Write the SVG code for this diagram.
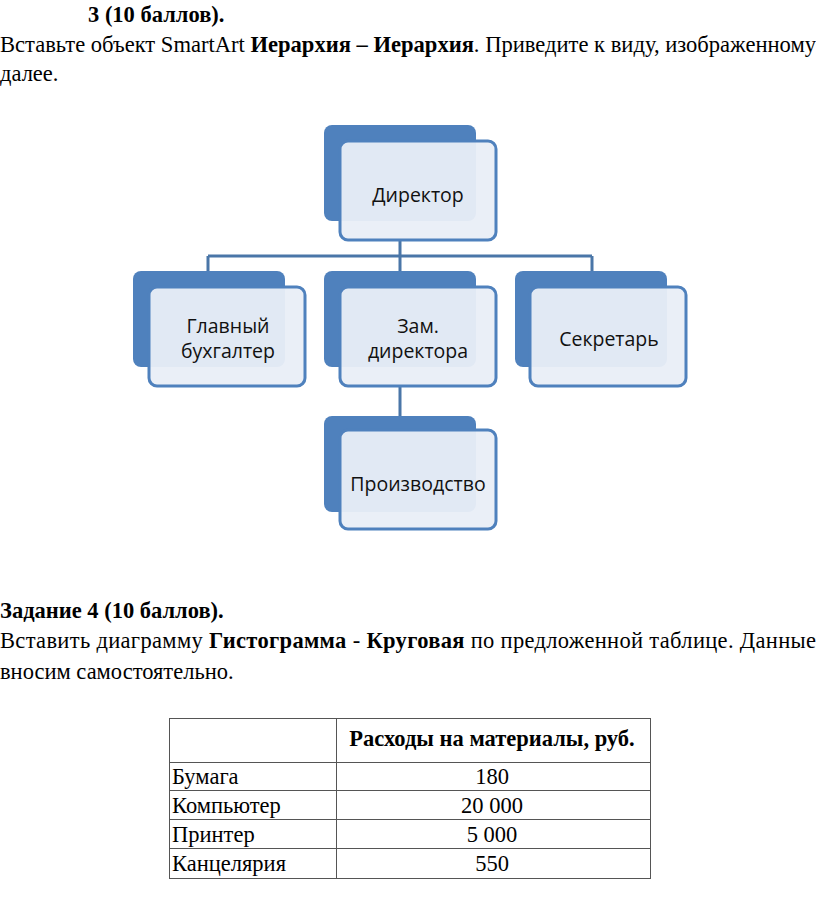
<svg xmlns="http://www.w3.org/2000/svg" width="816" height="909" viewBox="0 0 816 909">
<style>
.t{font-family:"Liberation Serif","Times New Roman",serif;font-size:22.5px;fill:#000}
.b{font-weight:bold}
.back{fill:#4f81bd}
.front{fill:#e9eef7;fill-opacity:0.95;stroke:#4f81bd;stroke-width:3}
.lbl{font-family:"Open Sans","Noto Sans",sans-serif;font-size:19.5px;fill:#111;text-anchor:middle}
.con{stroke:#4a76a8;stroke-width:3;fill:none}
.grid{stroke:#555;stroke-width:1;fill:none}
</style>
<rect width="816" height="909" fill="#fff"/>
<text class="t b" x="88" y="22">3 (10 баллов).</text>
<text class="t" x="0" y="52" textLength="816" lengthAdjust="spacingAndGlyphs">Вставьте объект SmartArt <tspan class="b">Иерархия – Иерархия</tspan>. Приведите к виду, изображенному</text>
<text class="t" x="0" y="81">далее.</text>
<g id="connectors">
<path class="con" d="M400 240V256M208 256H592M208 256V272M400 256V272M592 256V272M400 386V416"/>
</g>
<g id="n-director">
<rect class="back" x="324" y="125" width="152" height="96" rx="8"/>
<rect class="front" x="340" y="141" width="156" height="99" rx="8"/>
<text class="lbl" x="418" y="202">Директор</text>
</g>
<g id="n-buh">
<rect class="back" x="133" y="271" width="152" height="96" rx="8"/>
<rect class="front" x="149" y="287" width="156" height="99" rx="8"/>
<text class="lbl" x="228" y="333">Главный</text>
<text class="lbl" x="228" y="358">бухгалтер</text>
</g>
<g id="n-zam">
<rect class="back" x="324" y="271" width="152" height="96" rx="8"/>
<rect class="front" x="340" y="287" width="156" height="99" rx="8"/>
<text class="lbl" x="418" y="333">Зам.</text>
<text class="lbl" x="418" y="358">директора</text>
</g>
<g id="n-sekr">
<rect class="back" x="515" y="271" width="152" height="96" rx="8"/>
<rect class="front" x="530" y="287" width="156" height="99" rx="8"/>
<text class="lbl" x="609" y="346">Секретарь</text>
</g>
<g id="n-proizv">
<rect class="back" x="324" y="416" width="152" height="96" rx="8"/>
<rect class="front" x="340" y="430" width="156" height="99" rx="8"/>
<text class="lbl" x="418" y="491">Производство</text>
</g>
<text class="t b" x="0" y="618">Задание 4 (10 баллов).</text>
<text class="t" x="0" y="648" textLength="816" lengthAdjust="spacing">Вставить диаграмму <tspan class="b">Гистограмма</tspan> - <tspan class="b">Круговая</tspan> по предложенной таблице. Данные</text>
<text class="t" x="0" y="679">вносим самостоятельно.</text>
<g id="table">
<rect class="grid" x="169.5" y="718.5" width="481" height="160"/>
<path class="grid" d="M336.5 718.5V762.5M169.5 762.5H650.5M169.5 790.5H650.5M169.5 819.5H650.5M169.5 848.5H650.5M336.5 762.5V878.5"/>
<text class="t b" x="492" y="746" text-anchor="middle">Расходы на материалы, руб.</text>
<text class="t" x="172" y="784">Бумага</text>
<text class="t" x="172" y="813">Компьютер</text>
<text class="t" x="172" y="842">Принтер</text>
<text class="t" x="172" y="871">Канцелярия</text>
<text class="t" x="492" y="784" text-anchor="middle">180</text>
<text class="t" x="492" y="813" text-anchor="middle">20 000</text>
<text class="t" x="492" y="842" text-anchor="middle">5 000</text>
<text class="t" x="492" y="871" text-anchor="middle">550</text>
</g>
</svg>
